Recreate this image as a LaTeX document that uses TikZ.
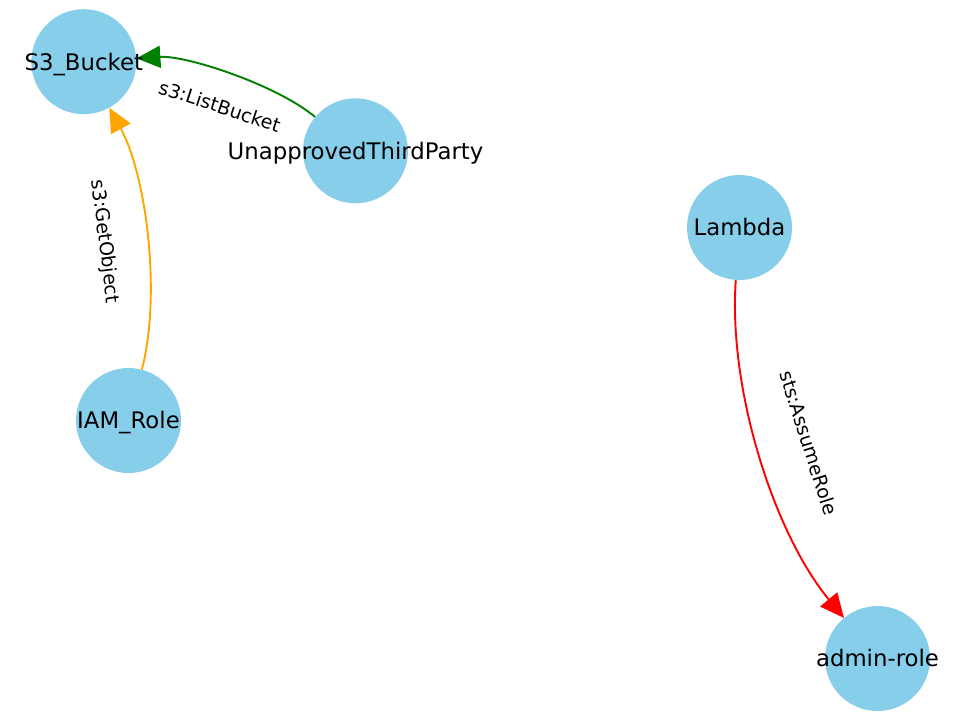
\documentclass[tikz,border=0pt]{standalone}
\usepackage{fontspec}
\setmainfont{DejaVu Sans}
\usetikzlibrary{arrows.meta,calc}
\definecolor{skyblue}{HTML}{87CEEB}
\definecolor{mplgreen}{RGB}{0,128,0}
\definecolor{mplorange}{HTML}{FFA500}
\definecolor{mplred}{HTML}{FF0000}
\tikzset{
  circ/.style={circle, fill=skyblue, minimum size=105pt, inner sep=0pt},
  nodetext/.style={inner sep=0pt, text height=16.6pt, text depth=0pt, font=\fontsize{22.8}{27}\selectfont},
  edgetext/.style={inner sep=0pt, text height=13.85pt, text depth=0pt, font=\fontsize{19}{23}\selectfont},
  edgeline/.style={line width=1.9pt, -{Triangle[length=24pt,width=22pt]}},
}
\begin{document}
\begin{tikzpicture}[x=1pt,y=-1pt]
\useasboundingbox (0,0) rectangle (960,720);
% nodes
\node[circ] (s3) at (83.8,61.7) {};
\node[circ] (utp) at (355.5,150.8) {};
\node[circ] (lam) at (739.5,227.5) {};
\node[circ] (iam) at (128.5,420.5) {};
\node[circ] (adm) at (877.5,658.5) {};
% control points (arc3, rad=0.2)
\coordinate (q1) at (237.47,51.91);
\coordinate (q2) at (177.91,232.16);
\coordinate (q3) at (722.3,470.6);
% edges
\draw[edgeline, draw=mplgreen] (utp) .. controls ($(utp.center)!0.6667!(q1)$) and ($(s3.center)!0.6667!(q1)$) .. (s3);
\draw[edgeline, draw=mplorange] (iam) .. controls ($(iam.center)!0.6667!(q2)$) and ($(s3.center)!0.6667!(q2)$) .. (s3);
\draw[edgeline, draw=mplred] (lam) .. controls ($(lam.center)!0.6667!(q3)$) and ($(adm.center)!0.6667!(q3)$) .. (adm);
% node texts
\node[nodetext] (s3t) at (s3) {S3\_Bucket};
\node[nodetext] (utpt) at (utp) {UnapprovedThirdParty};
\node[nodetext] (lamt) at (lam) {Lambda};
\node[nodetext] (iamt) at (iam) {IAM\_Role};
\node[nodetext] (admt) at (adm) {admin-role};
% edge labels
\node[edgetext, rotate=-18.2] (l1) at (219.65,106.25) {s3:ListBucket};
\node[edgetext, rotate=-83.0] (l2) at (106.15,241.1) {s3:GetObject};
\node[edgetext, rotate=-72.2] (l3) at (808.5,443) {sts:AssumeRole};
\end{tikzpicture}
\end{document}
